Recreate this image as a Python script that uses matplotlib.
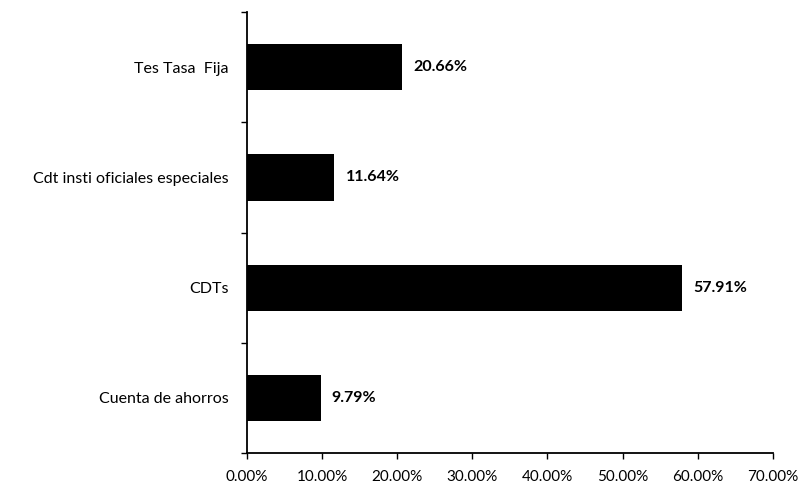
import matplotlib
matplotlib.use("Agg")
import matplotlib.pyplot as plt
from matplotlib.ticker import FixedLocator, FuncFormatter

categories = ["Cuenta de ahorros", "CDTs", "Cdt insti oficiales especiales", "Tes Tasa  Fija"]
values = [9.79, 57.91, 11.64, 20.66]
value_labels = ["9.79%", "57.91%", "11.64%", "20.66%"]
xticks = [0, 10, 20, 30, 40, 50, 60, 70]

plt.rcParams['font.family'] = ['Lato', 'DejaVu Sans']

fig = plt.figure(figsize=(8.10, 4.91), dpi=100)
ax = fig.add_axes([0.305, 0.0774, 0.649, 0.898])

ypos = list(range(len(categories)))
ax.barh(ypos, values, height=0.42, color="black")
for y, v, lab in zip(ypos, values, value_labels):
    ax.text(v + 1.5, y, lab, va="center", ha="left", fontsize=11.5, fontweight="bold")

ax.set_xlim(0, 70)
ax.set_ylim(-0.5, len(categories) - 0.5)
ax.xaxis.set_major_locator(FixedLocator(xticks))
ax.xaxis.set_major_formatter(FuncFormatter(lambda x, p: f"{x:.2f}%"))
ax.set_yticks(ypos)
ax.set_yticklabels(categories, fontsize=11.5)
ax.yaxis.set_minor_locator(FixedLocator([i - 0.5 for i in range(len(categories) + 1)]))
ax.tick_params(axis="y", which="major", length=0, pad=13)
ax.tick_params(axis="y", which="minor", length=4, width=1)
ax.tick_params(axis="x", which="major", length=4, width=1, labelsize=11, pad=8)

for s in ["top", "right"]:
    ax.spines[s].set_visible(False)
ax.spines["left"].set_linewidth(1.3)
ax.spines["bottom"].set_linewidth(1.3)

fig.savefig("out.png", dpi=100)
